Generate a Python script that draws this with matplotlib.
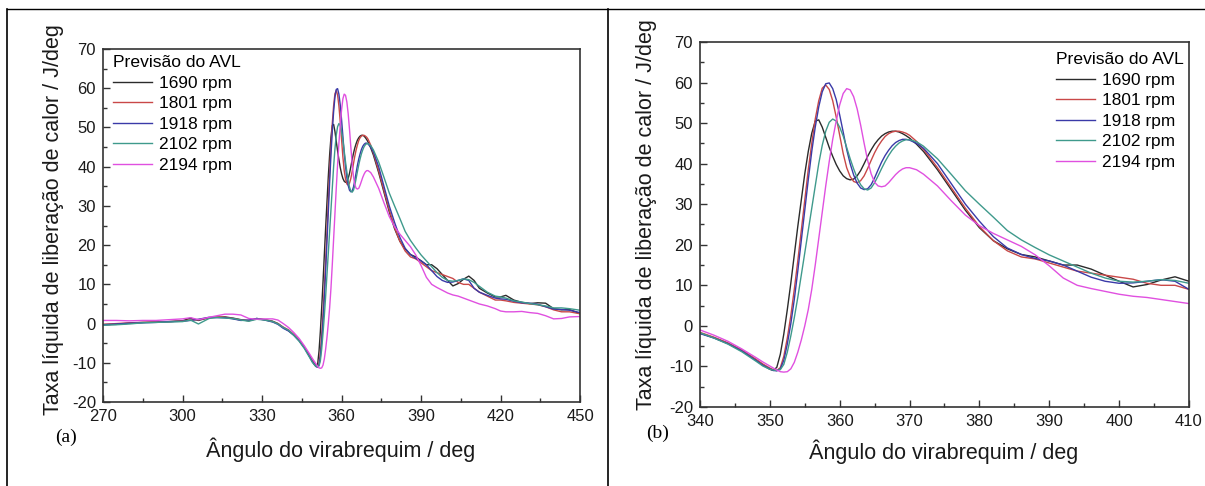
import matplotlib
matplotlib.use('Agg')
import matplotlib.pyplot as plt
from matplotlib.lines import Line2D
from matplotlib.ticker import MultipleLocator

plt.rcParams['font.family'] = ['Liberation Sans', 'DejaVu Sans']
plt.rcParams['axes.unicode_minus'] = False

# ---------------- data ----------------
ANGLE = [270, 275, 280, 285, 290, 295, 300, 303, 306, 310, 313, 316, 319, 322, 325, 328, 331, 334, 336, 338,
         340, 342, 344, 346, 348, 349, 350,
         350.5, 351, 351.5, 352, 352.5, 353, 353.5, 354, 354.5, 355, 355.5, 356, 356.5, 357, 357.5, 358,
         358.5, 359, 359.5, 360, 360.5, 361, 361.5, 362, 362.5, 363, 363.5, 364, 364.5, 365, 365.5, 366,
         366.5, 367, 367.5, 368, 368.5, 369, 369.5, 370,
         371, 372, 374, 376, 378, 380, 382, 384, 386, 388, 390, 392, 394, 396, 398, 400, 402, 404, 406, 408, 410,
         412, 415, 418, 420, 422, 425, 428, 431, 434, 437, 440, 443, 446, 450]

RPM_1690 = [-0.3, -0.2, 0.1, 0.3, 0.4, 0.5, 0.7, 1.4, 0.8, 1.5, 1.6, 1.7, 1.4, 1.0, 0.7, 1.3, 1.0, 0.6, 0.0, -1.0,
            -1.8, -2.9, -4.3, -6.1, -8.4, -9.7, -10.7,
            -11.0, -10.2, -7.0, -2.0, 4.0, 10.5, 17.5, 24.5, 31.0, 37.5, 43.0, 47.5, 50.5, 50.8, 49.0, 46.5,
            44.0, 41.8, 39.8, 38.2, 37.0, 36.3, 36.0, 36.2, 37.0, 38.3, 40.0, 41.8, 43.4, 44.8, 45.9, 46.8,
            47.4, 47.8, 48.0, 48.0, 47.8, 47.4, 46.9, 46.3,
            44.8, 43.0, 38.5, 33.5, 28.5, 24.2, 21.0, 19.0, 17.6, 17.0, 16.0, 15.0, 15.0, 14.0, 12.5, 11.0, 9.6, 10.2, 11.3, 12.1, 11.0,
            9.0, 7.8, 6.8, 6.8, 7.2, 6.0, 5.4, 5.1, 5.3, 5.2, 3.8, 3.5, 3.6, 2.5]

RPM_1801 = [-0.2, 0.0, 0.2, 0.3, 0.4, 0.5, 0.7, 0.9, 1.0, 1.5, 1.7, 1.6, 1.3, 0.9, 0.8, 1.2, 1.0, 0.5, 0.0, -0.9,
            -1.6, -2.8, -4.2, -6.0, -8.2, -9.4, -10.4,
            -10.8, -11.0, -10.3, -7.5, -3.0, 2.5, 9.0, 16.0, 23.5, 31.0, 38.5, 45.0, 51.0, 55.5, 58.6, 59.4,
            58.3, 55.5, 51.5, 47.0, 42.5, 39.0, 36.8, 35.6, 35.3, 35.8, 37.0, 38.8, 40.8, 42.7, 44.3, 45.6,
            46.7, 47.4, 47.8, 48.0, 48.0, 47.8, 47.5, 47.0,
            45.5, 43.5, 39.0, 34.0, 29.0, 24.5, 21.0, 18.5, 17.0, 16.5, 15.5, 14.5, 13.5, 13.0, 12.5, 12.0, 11.5, 10.5, 10.0, 10.0, 9.0,
            8.0, 7.0, 6.0, 6.0, 5.8, 5.4, 5.2, 5.0, 4.8, 4.3, 3.5, 3.0, 3.0, 2.5]

RPM_1918 = [-0.3, -0.1, 0.1, 0.2, 0.3, 0.5, 0.6, 0.8, 1.1, 1.6, 1.5, 1.5, 1.2, 0.8, 0.9, 1.3, 0.9, 0.4, -0.2, -1.2,
            -1.9, -3.0, -4.4, -6.2, -8.5, -9.7, -10.6,
            -11.0, -11.1, -10.6, -8.5, -4.5, 0.5, 6.5, 13.5, 21.0, 28.5, 36.0, 43.0, 49.0, 54.0, 57.7, 59.7,
            59.9, 58.5, 55.8, 52.0, 47.8, 43.5, 40.0, 37.2, 35.2, 34.0, 33.6, 33.8, 34.8, 36.5, 38.5, 40.4,
            42.0, 43.3, 44.4, 45.2, 45.7, 46.0, 46.0, 45.8,
            45.0, 43.8, 40.0, 35.0, 30.0, 25.8, 22.0, 19.2, 17.6, 16.6, 16.0, 15.0, 13.5, 12.0, 11.0, 10.5, 10.6, 11.0, 11.4, 11.0, 9.0,
            8.0, 7.2, 6.5, 6.3, 6.2, 5.7, 5.3, 5.2, 4.9, 4.3, 3.7, 3.6, 3.4, 2.8]

RPM_2102 = [-0.4, -0.3, -0.1, 0.2, 0.3, 0.4, 0.5, 0.9, -0.1, 1.3, 1.6, 1.4, 1.3, 0.9, 0.6, 1.1, 0.9, 0.5, -0.1, -1.0,
            -1.7, -3.0, -4.5, -6.4, -8.7, -9.9, -10.7,
            -10.9, -11.0, -10.8, -9.5, -6.5, -2.5, 2.0, 7.0, 12.5, 18.0, 23.5, 29.0, 34.5, 40.0, 44.5, 48.0,
            50.2, 51.0, 50.5, 49.0, 46.8, 44.0, 41.2, 38.7, 36.5, 34.8, 33.8, 33.5, 34.0, 35.3, 37.0, 38.8,
            40.5, 42.0, 43.3, 44.3, 45.1, 45.6, 45.9, 45.9,
            45.4, 44.3, 41.2, 37.3, 33.3, 30.0, 26.8, 23.5, 21.2, 19.3, 17.5, 16.0, 14.5, 13.0, 11.8, 11.0, 10.8, 11.0, 11.4, 11.2, 10.5,
            9.5, 8.0, 7.0, 6.8, 6.5, 5.8, 5.5, 5.1, 4.8, 4.5, 4.0, 4.0, 3.8, 3.4]

RPM_2194 = [0.8, 0.8, 0.7, 0.8, 0.8, 1.0, 1.2, 1.5, 1.0, 1.6, 2.0, 2.4, 2.4, 2.2, 1.3, 1.1, 1.2, 1.2, 0.9, 0.0,
            -1.0, -2.3, -3.8, -5.7, -7.8, -8.9, -9.9,
            -10.4, -10.9, -11.3, -11.4, -11.3, -10.6, -9.0, -6.5, -3.5, 0.0, 4.0, 9.0, 15.0, 21.5, 28.0, 34.5,
            40.5, 46.0, 50.5, 54.5, 57.3, 58.5, 58.2, 56.5, 53.5, 49.5, 45.0, 40.8, 37.5, 35.4, 34.5, 34.3,
            34.5, 35.3, 36.3, 37.3, 38.1, 38.7, 39.0, 39.0,
            38.5, 37.4, 34.5, 30.8, 27.3, 24.7, 22.8, 21.2, 19.6, 17.5, 14.8, 11.8, 10.0, 9.2, 8.5, 7.8, 7.3, 7.0, 6.5, 6.0, 5.5,
            5.0, 4.5, 3.8, 3.2, 3.0, 3.0, 3.1, 2.8, 2.6, 2.0, 1.2, 1.3, 1.7, 1.8]

SERIES_LABELS = ['1690 rpm', '1801 rpm', '1918 rpm', '2102 rpm', '2194 rpm']
SERIES = [RPM_1690, RPM_1801, RPM_1918, RPM_2102, RPM_2194]
COLORS = ['#2b2b2b', '#c94848', '#3a3aa8', '#3f9a8c', '#e050e0']

LEGEND_TITLE = 'Previsão do AVL'
XLABEL = 'Ângulo do virabrequim / deg'
YLABEL = 'Taxa líquida de liberação de calor / J/deg'

XLIM_A, XTICKS_A = (270, 450), [270, 300, 330, 360, 390, 420, 450]
XLIM_B, XTICKS_B = (340, 410), [340, 350, 360, 370, 380, 390, 400, 410]
YTICKS = [-20, -10, 0, 10, 20, 30, 40, 50, 60, 70]

# ---------------- figure ----------------
fig = plt.figure(figsize=(12.05, 4.86), dpi=100)
axA = fig.add_axes([0.0855, 0.1728, 0.3959, 0.7263])
axB = fig.add_axes([0.5809, 0.1626, 0.4058, 0.7510])

panels = [
    (axA, XLIM_A, XTICKS_A, 15, (0.021, 0.983), (-0.103, 0.516), (0.497, -0.136)),
    (axB, XLIM_B, XTICKS_B, 5, (0.728, 0.972), (-0.110, 0.526), (0.499, -0.123)),
]

for ax, xlim, xticks, xminor, leg_pos, ylab_pos, xlab_pos in panels:
    for vals, lab, col in zip(SERIES, SERIES_LABELS, COLORS):
        ax.plot(ANGLE, vals, color=col, lw=1.0, label=lab)
    ax.set_xlim(*xlim)
    ax.set_ylim(-20, 70)
    ax.set_xticks(xticks)
    ax.set_yticks(YTICKS)
    ax.xaxis.set_minor_locator(MultipleLocator(xminor))
    ax.yaxis.set_minor_locator(MultipleLocator(5))
    ax.tick_params(which='major', direction='in', length=5, width=1.0, labelsize=12,
                   pad=5, color='#333333', labelcolor='#1a1a1a')
    ax.tick_params(which='minor', direction='in', length=3, width=1.0, color='#333333')
    for sp in ax.spines.values():
        sp.set_linewidth(1.2)
        sp.set_color('#333333')
    ax.set_xlabel(XLABEL, fontsize=15.5, color='#1a1a1a', va='center')
    ax.xaxis.set_label_coords(*xlab_pos)
    ax.set_ylabel(YLABEL, fontsize=15.5, color='#1a1a1a', va='center')
    ax.yaxis.set_label_coords(*ylab_pos)
    leg = ax.legend(title=LEGEND_TITLE, loc='upper left', bbox_to_anchor=leg_pos,
                    frameon=False, fontsize=12.4, title_fontsize=12.6, borderpad=0,
                    borderaxespad=0, handlelength=2.25, handletextpad=0.4,
                    labelspacing=0.32, alignment='left')

fig.text(0.0548, 0.1008, '(a)', family=['Liberation Serif', 'DejaVu Serif'], fontsize=14,
         ha='center', va='center')
fig.text(0.546, 0.109, '(b)', family=['Liberation Serif', 'DejaVu Serif'], fontsize=14,
         ha='center', va='center')

# table borders around the two panels
fig.add_artist(Line2D([0.0058, 1.0], [0.981, 0.981], transform=fig.transFigure, color='black', lw=1.0))
fig.add_artist(Line2D([0.0058, 0.0058], [0.0, 0.981], transform=fig.transFigure, color='black', lw=1.2))
fig.add_artist(Line2D([0.5046, 0.5046], [0.0, 0.981], transform=fig.transFigure, color='black', lw=1.2))

fig.savefig('out.png', dpi=100)
